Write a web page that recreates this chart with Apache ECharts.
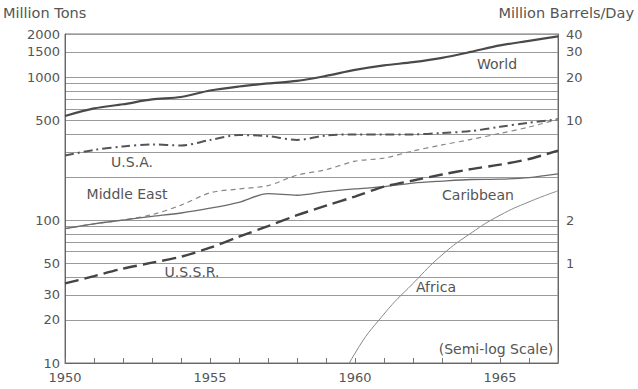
<!DOCTYPE html>
<html>
<head>
<meta charset="utf-8">
<script src="https://cdn.jsdelivr.net/npm/echarts@6/dist/echarts.min.js"></script>
<style>
html,body{margin:0;padding:0;background:#fff;}
#chart{width:638px;height:389px;}
</style>
</head>
<body>
<div id="chart"></div>
<script>
const years = [1950,1951,1952,1953,1954,1955,1956,1957,1958,1959,1960,1961,1962,1963,1964,1965,1966,1967];
const world      = [534, 603, 645, 697, 725, 805, 859, 902, 939, 1018, 1121, 1205, 1270, 1361, 1499, 1665, 1790, 1925];
const usa        = [283, 309, 327, 338, 332, 363, 393, 386, 363, 390, 397, 397, 397, 406, 419, 449, 479, 506];
const middleEast = [87, 94, 100, 109, 127, 155, 165, 174, 206, 225, 258, 271, 304, 335, 366, 403, 447, 506];
const caribbean  = [87, 94, 100, 106, 112, 121, 133, 153, 149, 158, 165, 171, 181, 187, 192, 193, 198, 210];
const ussr       = [36, 40.5, 45.7, 50.3, 55.4, 64, 76.5, 90.6, 108, 126, 146, 171, 189, 208, 227, 244, 267, 306];
const africa     = [null, null, null, null, null, null, null, null, null, 4.7, 11.7, 22, 36, 57, 81, 108, 134, 160];

const leftGridValues = [10,20,30,40,50,60,70,80,90,100,200,300,400,500,600,700,800,900,1000,1500,2000];
const leftLabelValues = [10,20,30,50,100,500,1000,1500,2000];
const rightLabelValues = [1,2,10,20,30,40];
const yearLabelValues = [1950,1955,1960,1965];

function pairs(vals){ return years.map((y,i)=>[y, vals[i]]); }

const FONT = '"DejaVu Sans", sans-serif';
const TXT = '#555';
const FS = 13;

const chart = echarts.init(document.getElementById('chart'), null, {renderer:'svg'});
function txt(text, x, y, align, size){
  return {type:'text', x:x, y:y, style:{text:text, fill:TXT, font:(size||14) + 'px ' + FONT, align:align||'center', verticalAlign:'middle'}};
}
const plain = v => String(v);
chart.setOption({
  animation:false,
  backgroundColor:'#fff',
  grid:{left:65, right:80, top:34, bottom:26, show:true, borderColor:'#777', borderWidth:1, backgroundColor:'transparent'},
  xAxis:{
    type:'value', min:1950, max:1967, interval:1,
    axisLine:{show:true, lineStyle:{color:'#666', width:1}},
    axisTick:{show:true, inside:true, length:5, lineStyle:{color:'#777'}},
    axisLabel:{customValues:yearLabelValues, formatter:plain, color:TXT, fontSize:FS, fontFamily:FONT, margin:8},
    splitLine:{show:false}
  },
  yAxis:[{
    type:'log', logBase:10, min:10, max:2000, position:'left',
    axisLine:{show:true, lineStyle:{color:'#666'}},
    axisTick:{show:false, customValues:leftGridValues},
    axisLabel:{customValues:leftLabelValues, formatter:plain, color:TXT, fontSize:FS, fontFamily:FONT, margin:5},
    splitLine:{show:true, lineStyle:{color:'#9a9a9a', width:1}}
  },{
    type:'log', logBase:10, min:0.2, max:40, position:'right',
    axisLine:{show:true, lineStyle:{color:'#666'}},
    axisTick:{show:false},
    axisLabel:{customValues:rightLabelValues, formatter:plain, color:TXT, fontSize:FS, fontFamily:FONT, margin:8},
    splitLine:{show:false}
  }],
  series:[
    {name:'World', type:'line', data:pairs(world), showSymbol:false, smooth:0.3,
      lineStyle:{color:'#4a4a4a', width:2.2}},
    {name:'U.S.A.', type:'line', data:pairs(usa), showSymbol:false, smooth:0.3,
      lineStyle:{color:'#555', width:2, type:[9,4,2,4]}},
    {name:'Middle East', type:'line', data:pairs(middleEast), showSymbol:false, smooth:0.3,
      lineStyle:{color:'#888', width:1.2, type:[5,4]}},
    {name:'Caribbean', type:'line', data:pairs(caribbean), showSymbol:false, smooth:0.3,
      lineStyle:{color:'#6a6a6a', width:1.3}},
    {name:'U.S.S.R.', type:'line', data:pairs(ussr), showSymbol:false, smooth:0.3,
      lineStyle:{color:'#444', width:2.4, type:[14,6]}},
    {name:'Africa', type:'line', data:pairs(africa), showSymbol:false, smooth:0.5, connectNulls:false,
      lineStyle:{color:'#888', width:1}}
  ],
  graphic:[
    txt('Million Tons', 3, 13, 'left', 14.5),
    txt('Million Barrels/Day', 634, 13, 'right', 14.5),
    txt('World', 497, 64),
    txt('U.S.A.', 132, 162),
    txt('Middle East', 127, 194),
    txt('Caribbean', 478, 195),
    txt('U.S.S.R.', 192, 272),
    txt('Africa', 436, 287),
    txt('(Semi-log Scale)', 496, 349)
  ]
});
</script>
</body>
</html>
